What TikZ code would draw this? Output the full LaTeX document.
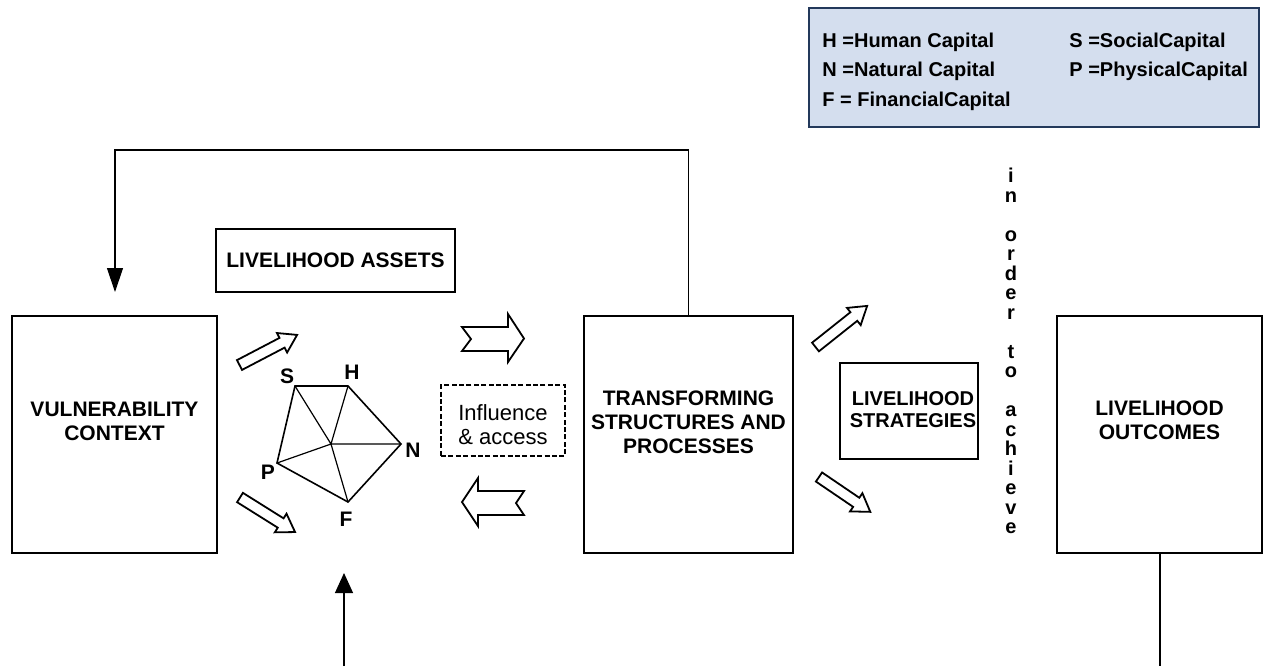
\documentclass[tikz,border=0pt]{standalone}
\usepackage{fontspec}
\setmainfont{Liberation Sans}
\usetikzlibrary{arrows.meta}
\definecolor{legfill}{HTML}{D4DEEE}
\definecolor{legdraw}{HTML}{23395B}
\newcommand{\myblockarrow}[4]{%
  \draw[blk, shift={(#1,#2)}, rotate=#3] (0,-5.5) -- (#4-17,-5.5) -- (#4-17,-11) -- (#4,0) -- (#4-17,11) -- (#4-17,5.5) -- (0,5.5) -- cycle;}
\begin{document}
\begin{tikzpicture}[x=0.5pt,y=-0.5pt,
  box/.style={draw, line width=0.6pt, rectangle, inner sep=0},
  lbl/.style={font=\bfseries\fontsize{10.5}{12}\selectfont, align=center, inner sep=0},
  leg/.style={font=\bfseries\fontsize{10}{12}\selectfont, inner sep=0, anchor=base west},
  plbl/.style={font=\bfseries\fontsize{10.5}{12}\selectfont, inner sep=0},
  blk/.style={draw, line width=0.9pt, fill=white, line join=miter},
  thinline/.style={line width=0.6pt}]
\useasboundingbox (0,0) rectangle (1263,666);

% legend
\node[draw=legdraw, fill=legfill, line width=1.25pt, minimum width=225pt, minimum height=59.5pt, inner sep=0] (legend) at (1034,67.5) {};
\node[leg] (lh) at (822,47) {H =Human Capital};
\node[leg] (ln) at (822,76) {N =Natural Capital};
\node[leg] (lf) at (822,106) {F = FinancialCapital};
\node[leg] (ls) at (1069,47) {S =SocialCapital};
\node[leg] (lp) at (1069,76) {P =PhysicalCapital};

% main boxes
\node[box, minimum width=102.5pt, minimum height=118.5pt] (vc) at (114.5,434.5) {};
\node[lbl] (vct) at (114.5,421) {VULNERABILITY\\CONTEXT};
\node[box, lbl, minimum width=119.5pt, minimum height=31.5pt] (assets) at (335.5,260.5) {LIVELIHOOD ASSETS};
\node[box, minimum width=104.5pt, minimum height=118.5pt] (tsp) at (688.5,434.5) {};
\node[lbl] (tspt) at (688.5,422) {TRANSFORMING\\STRUCTURES AND\\PROCESSES};
\node[box, minimum width=69pt, minimum height=48pt] (strat) at (909,411) {};
\node[lbl, font=\bfseries\fontsize{10}{11}\selectfont] (stratt) at (913,410) {LIVELIHOOD\\STRATEGIES};
\node[box, minimum width=102.5pt, minimum height=118.5pt] (outc) at (1159.5,434.5) {};
\node[lbl] (outct) at (1159.5,420) {LIVELIHOOD\\OUTCOMES};
\node[draw, line width=0.9pt, dash pattern=on 2.5pt off 1.2pt, minimum width=62pt, minimum height=35.5pt, inner sep=0] (infl) at (503,420.5) {};
\node[font=\fontsize{11}{12}\selectfont, align=center, inner sep=0] (inflt) at (503,425) {Influence\\\& access};

% vertical text
\node[font=\bfseries\fontsize{10}{9.75}\selectfont, align=center, inner sep=0, anchor=north] (vtext) at (1011,168)
  {i\\n\\\mbox{}\\o\\r\\d\\e\\r\\\mbox{}\\t\\o\\\mbox{}\\a\\c\\h\\i\\e\\v\\e};

% pentagon
\coordinate (S) at (295,386);
\coordinate (H) at (348,386);
\coordinate (N) at (401,444);
\coordinate (F) at (348,502);
\coordinate (P) at (277,463);
\coordinate (C) at (331,444);
\draw[line width=0.6pt] (C) -- (S) (C) -- (H) (C) -- (N) (C) -- (F) (C) -- (P);
\draw[line width=0.8pt, line join=miter] (S) -- (H) -- (N) -- (F) -- (P) -- cycle;
\node[plbl] (lS) at (287,376) {S};
\node[plbl] (lH) at (352,372) {H};
\node[plbl] (lN) at (413,450) {N};
\node[plbl] (lP) at (268,472) {P};
\node[plbl] (lF) at (346,519) {F};

% feedback connector
\coordinate (fbc) at (115,150);
\coordinate (fbend) at (115,292);
\draw[thinline, -{Triangle[length=12pt,width=8pt]}] (tsp.north) |- (fbc) -- (fbend);

% bottom arrow
\coordinate (bstart) at (344,666);
\coordinate (bend) at (344,573);
\draw[thinline, -{Triangle[length=10pt,width=9pt]}] (bstart) -- (bend);

% outcome line
\coordinate (lobot) at (1160,666);
\draw[thinline] (outc.south -| lobot) -- (lobot);

% notched block arrows
\draw[blk] (462,327) -- (471,339) -- (462,351) -- (508,351) -- (508,362) -- (524,338.5) -- (508,314) -- (508,327) -- cycle;
\draw[blk] (462,502) -- (478,478) -- (478,491) -- (524,491) -- (516,503) -- (524,515) -- (478,515) -- (478,526) -- cycle;

% diagonal block arrows
\myblockarrow{239.5}{365}{27.6}{65}
\myblockarrow{240}{497.5}{-32.1}{65}
\myblockarrow{815.5}{347}{38.5}{66}
\myblockarrow{819}{477}{-34.2}{62}
\end{tikzpicture}
\end{document}
